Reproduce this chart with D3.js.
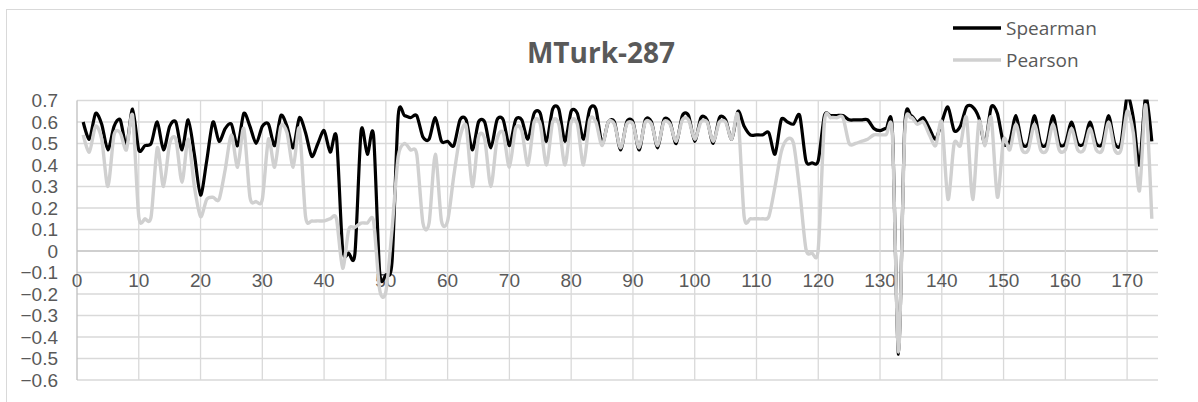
<!DOCTYPE html>
<html>
<head>
<meta charset="utf-8">
<script src="https://cdn.jsdelivr.net/npm/d3@7"></script>
<style>
  body { margin: 0; background: #fff; }
  text { font-family: "Open Sans", sans-serif; }
  .tick-label { font-family: "Liberation Sans", Arial, sans-serif; font-size: 19px; }
</style>
</head>
<body>
<div id="chart"></div>
<script>
const title = "MTurk-287";
const seriesNames = ["Spearman", "Pearson"];
const spearman = [
  0.60, 0.52, 0.64, 0.59, 0.47, 0.58, 0.61, 0.49, 0.66, 0.47,
  0.49, 0.50, 0.60, 0.47, 0.58, 0.60, 0.47, 0.61, 0.45, 0.26,
  0.42, 0.60, 0.51, 0.57, 0.59, 0.49, 0.64, 0.58, 0.50, 0.58,
  0.59, 0.49, 0.63, 0.58, 0.48, 0.62, 0.55, 0.44, 0.50, 0.56,
  0.46, 0.53, 0.01, -0.01, -0.01, 0.56, 0.45, 0.54, -0.10, -0.11,
  -0.05, 0.63, 0.63, 0.62, 0.63, 0.53, 0.52, 0.62, 0.51, 0.51,
  0.49, 0.61, 0.61, 0.47, 0.60, 0.60, 0.48, 0.61, 0.61, 0.49,
  0.61, 0.61, 0.52, 0.64, 0.64, 0.51, 0.66, 0.66, 0.51, 0.65,
  0.64, 0.52, 0.66, 0.66, 0.50, 0.60, 0.60, 0.47, 0.60, 0.60,
  0.47, 0.61, 0.60, 0.48, 0.61, 0.60, 0.50, 0.63, 0.63, 0.51,
  0.62, 0.61, 0.50, 0.62, 0.61, 0.52, 0.65, 0.58, 0.54, 0.54,
  0.54, 0.55, 0.45, 0.61, 0.60, 0.59, 0.63, 0.42, 0.41, 0.42,
  0.63, 0.63, 0.63, 0.63, 0.61, 0.61, 0.61, 0.61, 0.57, 0.56,
  0.57, 0.56, -0.48, 0.58, 0.63, 0.60, 0.62, 0.57, 0.52, 0.60,
  0.67, 0.56, 0.58, 0.67, 0.67, 0.62, 0.50, 0.67, 0.64, 0.50,
  0.51, 0.63, 0.50, 0.50, 0.63, 0.50, 0.50, 0.63, 0.50, 0.50,
  0.60, 0.50, 0.50, 0.60, 0.50, 0.50, 0.63, 0.50, 0.50, 0.72,
  0.62, 0.40, 0.72, 0.51
];
const pearson = [
  0.54, 0.46, 0.58, 0.52, 0.30, 0.54, 0.55, 0.47, 0.63, 0.16,
  0.15, 0.16, 0.48, 0.30, 0.50, 0.52, 0.32, 0.52, 0.30, 0.16,
  0.24, 0.25, 0.24, 0.38, 0.54, 0.39, 0.57, 0.25, 0.23, 0.24,
  0.52, 0.39, 0.58, 0.55, 0.39, 0.57, 0.16, 0.14, 0.14, 0.14,
  0.15, 0.15, -0.08, 0.10, 0.11, 0.13, 0.13, 0.14, -0.18, -0.19,
  0.10, 0.44, 0.50, 0.47, 0.45, 0.13, 0.13, 0.45, 0.14, 0.14,
  0.35, 0.53, 0.58, 0.30, 0.53, 0.52, 0.30, 0.52, 0.55, 0.39,
  0.57, 0.56, 0.40, 0.60, 0.59, 0.40, 0.60, 0.59, 0.40, 0.60,
  0.59, 0.40, 0.61, 0.60, 0.49, 0.60, 0.59, 0.48, 0.59, 0.59,
  0.48, 0.60, 0.59, 0.49, 0.60, 0.59, 0.51, 0.61, 0.61, 0.52,
  0.60, 0.60, 0.51, 0.60, 0.60, 0.52, 0.63, 0.16, 0.15, 0.15,
  0.15, 0.16, 0.30, 0.46, 0.52, 0.50, 0.28, 0.01, -0.01, 0.01,
  0.60, 0.62, 0.62, 0.62, 0.50, 0.50, 0.51, 0.52, 0.54, 0.54,
  0.54, 0.54, -0.47, 0.55, 0.62, 0.59, 0.60, 0.54, 0.49, 0.60,
  0.24, 0.50, 0.49, 0.62, 0.24, 0.60, 0.49, 0.62, 0.25, 0.52,
  0.47, 0.59, 0.47, 0.47, 0.59, 0.47, 0.47, 0.59, 0.47, 0.47,
  0.57, 0.47, 0.47, 0.57, 0.47, 0.47, 0.60, 0.47, 0.47, 0.65,
  0.55, 0.28, 0.68, 0.15
];
const yTicks = [0.7, 0.6, 0.5, 0.4, 0.3, 0.2, 0.1, 0, -0.1, -0.2, -0.3, -0.4, -0.5, -0.6];
const xTicks = [0, 10, 20, 30, 40, 50, 60, 70, 80, 90, 100, 110, 120, 130, 140, 150, 160, 170];

const W = 1198, H = 402;
const plot = { left: 77, right: 1158, top: 100.5, bottom: 380 };

const svg = d3.select("#chart").append("svg")
    .attr("width", W).attr("height", H)
    .style("display", "block");

// chart area border (runs off the page on the right and bottom)
svg.append("rect").attr("x", 6.5).attr("y", 9.5).attr("width", W).attr("height", H)
    .attr("fill", "none").attr("stroke", "#d9d9d9").attr("stroke-width", 1);

const x = d3.scaleLinear().domain([0, 175]).range([plot.left, plot.right]);
const y = d3.scaleLinear().domain([-0.6, 0.7]).range([plot.bottom, plot.top]);

// gridlines
svg.append("g").selectAll("line").data(yTicks).enter().append("line")
    .attr("x1", plot.left).attr("x2", plot.right)
    .attr("y1", d => y(d)).attr("y2", d => y(d))
    .attr("stroke", d => d === 0 ? "#bfbfbf" : "#d9d9d9").attr("stroke-width", 1.3);
svg.append("g").selectAll("line").data(xTicks).enter().append("line")
    .attr("x1", d => x(d)).attr("x2", d => x(d))
    .attr("y1", plot.top).attr("y2", plot.bottom)
    .attr("stroke", d => d === 0 ? "#bfbfbf" : "#d9d9d9").attr("stroke-width", 1.3);

// y labels
svg.append("g").selectAll("text").data(yTicks).enter().append("text")
    .attr("class", "tick-label")
    .attr("x", 58).attr("y", d => y(d)).attr("dy", "0.35em")
    .attr("text-anchor", "end").attr("fill", "#595959")
    .text(d => d === 0 ? "0" : d3.format(".1f")(d));

// x labels sit under the zero line
svg.append("g").selectAll("text").data(xTicks).enter().append("text")
    .attr("class", "tick-label")
    .attr("x", d => x(d)).attr("y", 287)
    .attr("text-anchor", "middle").attr("fill", "#595959")
    .text(d => d);

svg.append("defs").append("clipPath").attr("id", "plot-clip")
    .append("rect").attr("x", plot.left).attr("y", plot.top - 1)
    .attr("width", plot.right - plot.left).attr("height", plot.bottom - plot.top + 1);

const line = d3.line()
    .x((d, i) => x(i + 1))
    .y(d => y(d))
    .curve(d3.curveCardinal.tension(0.2));

const lines = svg.append("g").attr("clip-path", "url(#plot-clip)");
lines.append("path").datum(spearman).attr("d", line)
    .attr("fill", "none").attr("stroke", "#000").attr("stroke-width", 3.2)
    .attr("stroke-linejoin", "round");
lines.append("path").datum(pearson).attr("d", line)
    .attr("fill", "none").attr("stroke", "#d0d0d0").attr("stroke-width", 3.4)
    .attr("stroke-linejoin", "round");

// title
svg.append("text").attr("x", 601).attr("y", 63)
    .attr("text-anchor", "middle").attr("fill", "#595959")
    .style("font-size", "28px").style("font-weight", "700")
    .text(title);

// legend
const legendColors = ["#000", "#d0d0d0"];
const lg = svg.append("g").selectAll("g").data(seriesNames).enter().append("g")
    .attr("transform", (d, i) => `translate(953,${28 + i * 32})`);
lg.append("line").attr("x1", 0).attr("x2", 48).attr("y1", 0).attr("y2", 0)
    .attr("stroke", (d, i) => legendColors[i]).attr("stroke-width", 3.4);
lg.append("text").attr("x", 53).attr("y", 0).attr("dy", "0.35em")
    .attr("fill", "#595959").style("font-size", "19px")
    .text(d => d);
</script>
</body>
</html>
